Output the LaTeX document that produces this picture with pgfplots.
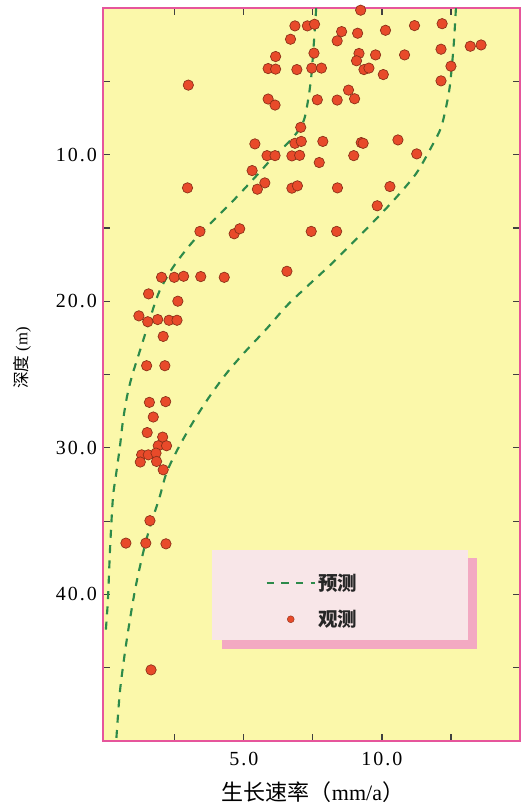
\documentclass[border=0pt]{standalone}
\usepackage{fontspec}
\usepackage{pgfplots}
\pgfplotsset{compat=1.18}
\setmainfont{Liberation Serif}
\newfontfamily\cjk{Noto Sans CJK SC}
\newfontfamily\tickfont[LetterSpace=10]{Liberation Serif}
\definecolor{bgyellow}{HTML}{FBF8AA}
\definecolor{framepink}{HTML}{E6559B}
\definecolor{curvegreen}{HTML}{2D8A4A}
\definecolor{dotfill}{HTML}{E84A2A}
\definecolor{dotdraw}{HTML}{8A3018}
\definecolor{legbox}{HTML}{F8E6E8}
\definecolor{legshadow}{HTML}{F3A9C2}
\begin{document}
\begin{tikzpicture}
\fill[white] (-77.25pt,-51pt) rectangle (318.75pt,555.75pt);
\begin{axis}[
  at={(0pt,0pt)}, anchor=south west,
  scale only axis, width=312.75pt, height=549.75pt,
  xmin=-0.1, xmax=15, ymin=0, ymax=50, y dir=reverse,
  axis background/.style={fill=bgyellow},
  axis line style={framepink, line width=1.3pt},
  xtick={2.5,5,7.5,10,12.5}, xticklabels={,5.0,,10.0,},
  ytick={5,10,15,20,25,30,35,40,45}, yticklabels={,10.0,,20.0,,30.0,,40.0,},
  tick align=inside, major tick length=5pt,
  tick style={black!75, line width=0.9pt},
  xticklabel style={font=\tickfont\fontsize{15}{17}\selectfont, anchor=center, yshift=-13.5pt},
  yticklabel style={font=\tickfont\fontsize{15}{17}\selectfont, anchor=east, xshift=-1pt},
  xlabel={{\cjk 生长速率（}mm/a{\cjk ）}},
  xlabel style={font=\fontsize{16.5}{18}\selectfont, at={(axis description cs:0.5036,-0.0696)}, anchor=center},
  ylabel={{\cjk 深度} (m)},
  ylabel style={font=\fontsize{12.5}{14}\selectfont, at={(axis description cs:-0.1942,0.5225)}, anchor=center},
  legend style={at={(axis cs:7.5,40.45)}, anchor=center, draw=none, fill=none,
    font=\cjk\bfseries\fontsize{14.6}{16}\selectfont, row sep=9.5pt,
    nodes={text=black!85}},
  legend cell align=left,
]
\fill[legshadow] (axis cs:4.2,37.5) rectangle (axis cs:13.45,43.7);
\fill[legbox] (axis cs:3.86,37.0) rectangle (axis cs:13.1,43.1);
\addplot[curvegreen, line width=1.6pt, dash pattern=on 6pt off 5.5pt, smooth,
  legend image code/.code={\draw[curvegreen, line width=1.6pt, dash pattern=on 5.5pt off 5.5pt] (0pt,0pt) -- (36pt,0pt);}]
  coordinates {(7.62,0) (7.55,2) (7.45,4.5) (7.35,6) (7.2,7.5) (7.0,8.3) (6.6,9.2) (6.1,10.1) (5.4,11.56) (4.61,13.15) (3.83,14.62) (3.1,16.05) (2.43,17.7) (1.96,19.25) (1.7,20.6) (1.45,22.1) (1.2,23.6) (0.95,25.1) (0.77,26.5) (0.62,28.2) (0.51,29.95) (0.36,32) (0.26,33.4) (0.16,36.7) (0.08,40.3) (0.0,42.5)};
\addlegendentry{预测}
\addplot[curvegreen, line width=1.6pt, dash pattern=on 6pt off 5.5pt, smooth, forget plot]
  coordinates {(12.68,0) (12.6,2.5) (12.48,5) (12.37,6.33) (12.14,8.16) (11.78,9.52) (11.24,11.29) (10.52,12.92) (9.73,14.51) (8.95,15.99) (8.17,17.46) (7.32,18.94) (6.56,20.3) (5.82,21.89) (5.03,23.48) (4.36,24.95) (3.70,26.66) (3.09,28.47) (2.55,30.29) (2.19,31.76) (1.95,33.36) (1.6,35.4) (1.36,37.1) (1.06,39.7) (0.76,43.1) (0.52,46.5) (0.4,49.4) (0.38,50)};
\addplot[only marks, mark=*, mark size=3.9pt, mark options={fill=dotfill, draw=dotdraw, line width=0.5pt},
  legend image code/.code={\draw[fill=dotfill, draw=dotdraw, line width=0.3pt] (18pt,0pt) circle (2.6pt);}]
  table[row sep=\\] {
x y\\
9.23 0.15\\ 6.85 1.22\\ 7.30 1.22\\ 7.56 1.11\\ 8.54 1.61\\ 9.12 1.72\\ 10.13 1.52\\ 11.18 1.20\\ 12.18 1.07\\
6.69 2.13\\ 8.38 2.24\\ 13.20 2.61\\ 13.59 2.52\\ 6.15 3.31\\ 7.54 3.08\\ 9.17 3.10\\ 9.77 3.20\\ 10.82 3.20\\
12.14 2.81\\ 9.08 3.60\\ 5.88 4.13\\ 6.15 4.17\\ 6.92 4.20\\ 7.46 4.10\\ 7.81 4.10\\ 9.35 4.20\\ 9.53 4.10\\
10.05 4.54\\ 12.50 3.97\\ 12.14 4.97\\ 2.99 5.26\\ 8.79 5.60\\ 5.88 6.21\\ 6.13 6.62\\ 7.66 6.26\\ 8.38 6.28\\
9.01 6.19\\ 7.06 8.14\\ 5.40 9.27\\ 6.85 9.23\\ 7.08 9.10\\ 7.86 9.10\\ 9.25 9.18\\ 9.32 9.23\\ 10.58 9.00\\
5.84 10.07\\ 6.13 10.07\\ 6.74 10.09\\ 7.02 10.05\\ 8.98 10.07\\ 11.26 9.95\\ 7.73 10.54\\ 5.30 11.09\\
5.76 11.93\\ 5.49 12.36\\ 6.74 12.29\\ 6.94 12.13\\ 8.39 12.27\\ 10.29 12.18\\ 2.96 12.27\\ 9.83 13.49\\
3.41 15.24\\ 4.65 15.40\\ 4.85 15.06\\ 7.44 15.24\\ 8.36 15.24\\ 6.56 17.96\\ 2.02 18.37\\ 2.48 18.37\\
2.82 18.30\\ 3.44 18.32\\ 4.29 18.37\\ 1.55 19.50\\ 2.61 20.00\\ 1.20 21.00\\ 1.52 21.40\\ 1.88 21.25\\
2.29 21.30\\ 2.58 21.30\\ 2.08 22.40\\ 1.48 24.40\\ 2.14 24.40\\ 1.58 26.90\\ 2.17 26.85\\ 1.72 27.90\\
1.50 28.96\\ 2.06 29.27\\ 1.90 29.86\\ 2.20 29.86\\ 1.30 30.48\\ 1.54 30.48\\ 1.82 30.36\\ 1.25 30.97\\
1.84 30.93\\ 2.08 31.50\\ 1.60 34.97\\ 0.73 36.50\\ 1.45 36.50\\ 2.18 36.55\\ 1.64 45.15\\
};
\addlegendentry{观测}
\end{axis}
\pgfresetboundingbox
\path (-77.25pt,-51pt) rectangle (318.75pt,555.75pt);
\end{tikzpicture}
\end{document}
